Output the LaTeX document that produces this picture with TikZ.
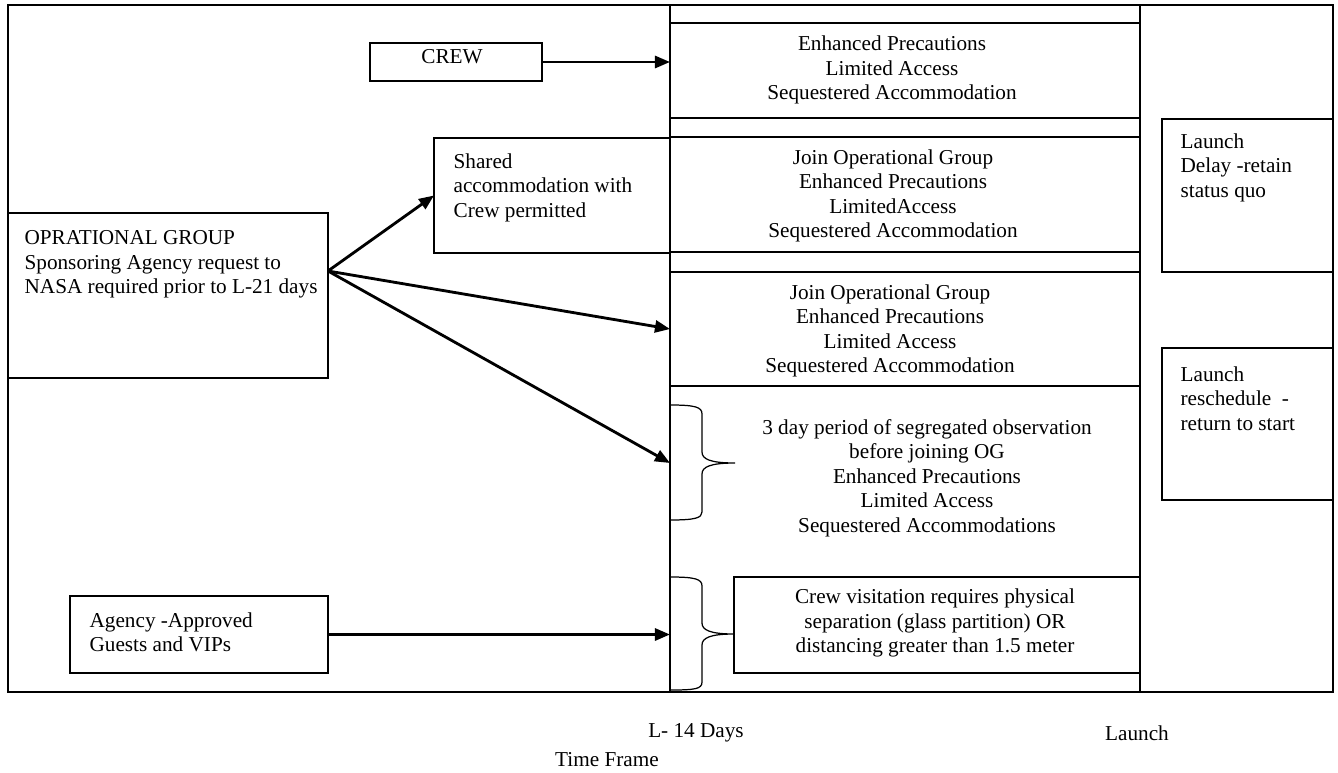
\documentclass[tikz,border=0pt]{standalone}
\usepackage{fontspec}
\setmainfont{Liberation Serif}
\usetikzlibrary{arrows.meta,fit}
\begin{document}
\begin{tikzpicture}[x=0.5655pt,y=-0.5655pt,line width=0.7pt,
  box/.style={draw, inner sep=0pt, outer sep=0pt},
  txt/.style={inner sep=0pt, font=\fontsize{12pt}{13.8pt}\selectfont, align=center},
  ltxt/.style={inner sep=0pt, font=\fontsize{12pt}{13.8pt}\selectfont, align=left, anchor=north west},
  arr/.style={-{Triangle[length=8.5pt,width=6.8pt]}, line width=1.6pt},
  bracepath/.style={line width=0.7pt}]
\useasboundingbox (0,0) rectangle (1338,772);

% columns and cells
\node[box, fit={(8,5)(670,692)}] (lcol) {};
\node[box, fit={(1140,5)(1333,692)}] (rcol) {};
\node[box, fit={(670,5)(1140,23)}] (strip1) {};
\node[box, fit={(670,23)(1140,118)}] (c1) {};
\node[box, fit={(670,118)(1140,137)}] (strip2) {};
\node[box, fit={(670,137)(1140,252)}] (c2) {};
\node[box, fit={(670,252)(1140,272)}] (strip3) {};
\node[box, fit={(670,272)(1140,386)}] (c3) {};
\node[box, fit={(670,386)(1140,692)}] (c4) {};

% boxes
\node[box, fit={(370,43)(542,81)}] (crew) {};
\node[box, fill=white, fit={(434,138)(670,253)}] (shared) {};
\node[box, fit={(8,213)(328,378)}] (og) {};
\node[box, fit={(70,596)(328,673)}] (agency) {};
\node[box, fit={(734,577)(1140,673)}] (visit) {};
\node[box, fit={(1162,119)(1333,272)}] (delay) {};
\node[box, fit={(1162,348)(1333,500)}] (resched) {};

% braces
\coordinate (b1) at (735,463);
\coordinate (b2) at (734,634);
\draw[bracepath] (670,405) .. controls (695,405) and (702,407) .. (702,414) -- (702,452)
  .. controls (702,459) and (710,463) .. (b1)
  .. controls (710,463) and (702,467) .. (702,474) -- (702,512)
  .. controls (702,518) and (695,520) .. (670,520);
\draw[bracepath] (670,577) .. controls (695,577) and (702,579) .. (702,586) -- (702,623)
  .. controls (702,630) and (710,634) .. (b2)
  .. controls (710,634) and (702,638) .. (702,645) -- (702,682)
  .. controls (702,689) and (695,690) .. (670,690);

% texts
\node[txt] (t1) at (892,70) {Enhanced Precautions\\Limited Access\\Sequestered Accommodation};
\node[txt] (t2) at (893,196) {Join Operational Group\\Enhanced Precautions\\LimitedAccess\\Sequestered Accommodation};
\node[txt] (t3) at (890,331) {Join Operational Group\\Enhanced Precautions\\Limited Access\\Sequestered Accommodation};
\node[txt] (t4) at (927,478) {3 day period of segregated observation\\before joining OG\\Enhanced Precautions\\Limited Access\\Sequestered Accommodations};
\node[txt] (t5) at (935,623) {Crew visitation requires physical\\separation (glass partition) OR\\distancing greater than 1.5 meter};
\node[txt] (tcrew) at (452,57) {CREW};
\node[ltxt] (tshared) at (453,153) {Shared\\accommodation with\\Crew permitted};
\node[ltxt] (tog) at (24,230) {OPRATIONAL GROUP\\Sponsoring Agency request to\\NASA required prior to L-21 days};
\node[ltxt] (tag) at (89,612) {Agency -Approved\\Guests and VIPs};
\node[ltxt] (tdelay) at (1180,133) {Launch\\Delay -retain\\status quo};
\node[ltxt] (tres) at (1180,366) {Launch\\reschedule\ \ -\\return to start};
\node[txt] (l14) at (696,733) {L- 14 Days};
\node[txt] (tlaunch) at (1137,733) {Launch};
\node[txt] (tf) at (607,760) {Time Frame};

% arrows
\coordinate (ogout) at (328,271);
\draw[arr] (crew.east) -- (crew.east -| c1.west);
\draw[arr] (ogout) -- (shared.west);
\draw[arr] (ogout) -- (c3.west);
\draw[arr] (ogout) -- (b1 -| c4.west);
\draw[arr] (agency.east) -- (agency.east -| c4.west);
\end{tikzpicture}
\end{document}
